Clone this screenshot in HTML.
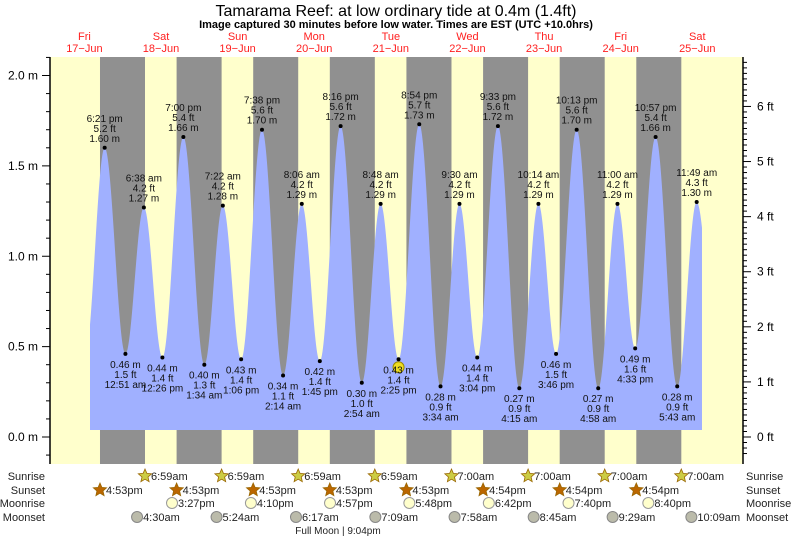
<!DOCTYPE html>
<html><head><meta charset="utf-8"><style>
html,body{margin:0;padding:0;background:#fff;}
svg{display:block;font-family:"Liberation Sans",sans-serif;}
</style></head><body>
<svg id="s" width="793" height="538" xmlns="http://www.w3.org/2000/svg"></svg>
<script>
const S=document.getElementById('s');
let h='';
const X0=46.1,PH=3.192;
const xt=t=>X0+t*PH;
const ym=m=>437-180.75*m;
const L=50,R=743,T=57,B=464;
h+=`<rect x="${L}" y="${T}" width="${R-L}" height="${B-T}" fill="#ffffcc"/>`;
const sunrise=[6.983,6.983,6.983,6.983,7,7,7,7];
const sunset=[16.883,16.883,16.883,16.883,16.883,16.9,16.9,16.9];
for(let d=0;d<8;d++){
 const a=xt(d*24+sunset[d]),b=xt((d+1)*24+sunrise[d]);
 h+=`<rect x="${a}" y="${T}" width="${b-a}" height="${B-T}" fill="#909090"/>`;
}
const tides=[[0,12.2,0.45],[0,18.35,1.60],[1,0.85,0.46],[1,6.633,1.27],[1,12.433,0.44],[1,19,1.66],[2,1.567,0.40],[2,7.367,1.28],[2,13.1,0.43],[2,19.633,1.70],[3,2.233,0.34],[3,8.1,1.29],[3,13.75,0.42],[3,20.267,1.72],[4,2.9,0.30],[4,8.8,1.29],[4,14.417,0.43],[4,20.9,1.73],[5,3.567,0.28],[5,9.5,1.29],[5,15.067,0.44],[5,21.55,1.72],[6,4.25,0.27],[6,10.233,1.29],[6,15.767,0.46],[6,22.217,1.70],[7,4.967,0.27],[7,11,1.29],[7,16.55,0.49],[7,22.95,1.66],[8,5.717,0.28],[8,11.817,1.30],[8,18,0.45]];
const tt=tides.map(a=>[a[0]*24+a[1],a[2]]);
function hAt(t){for(let i=0;i<tt.length-1;i++){const[a,ha]=tt[i],[b,hb]=tt[i+1];if(t>=a&&t<=b){const f=(t-a)/(b-a);return ha+(hb-ha)*(1-Math.cos(Math.PI*f))/2;}}return 0.5;}
const xs=90,xe=702,yb=430;
let p=`M${xs},${yb}`;
for(let x=xs;x<=xe;x+=0.5){p+=` L${x},${ym(hAt((x-X0)/PH)).toFixed(2)}`;}
p+=` L${xe},${yb}Z`;
h+=`<path d="${p}" fill="#a0b0ff"/>`;
h+=`<line x1="${L}" y1="${T}" x2="${L}" y2="${B}" stroke="#000" stroke-width="1.5"/>`;
h+=`<line x1="${R}" y1="${T}" x2="${R}" y2="${B}" stroke="#000" stroke-width="1.5"/>`;
for(let i=-2;i<=21;i++){const y=ym(i/10);if(y<T||y>B)continue;const big=i%5==0;h+=`<line x1="${L-(big?8:4)}" y1="${y}" x2="${L}" y2="${y}" stroke="#000"/>`;if(big)h+=`<text x="${L-12}" y="${y+4}" font-size="12" text-anchor="end">${(i/10).toFixed(1)} m</text>`;}
for(let i=-3;i<=68;i++){const y=ym(i*0.03048);if(y<T||y>B)continue;const big=i%10==0;h+=`<line x1="${R}" y1="${y}" x2="${R+(big?8:4)}" y2="${y}" stroke="#000"/>`;if(big)h+=`<text x="${R+14}" y="${y+4}" font-size="12">${i/10} ft</text>`;}
function fmt(t){let H=Math.floor(t+1e-6),M=Math.round((t-H)*60);if(M==60){H++;M=0;}const ap=H>=12?'pm':'am';let hh=H%12;if(hh==0)hh=12;return hh+':'+String(M).padStart(2,'0')+' '+ap;}
for(let i=1;i<tides.length-1;i++){const[d,t,m]=tides[i];const x=xt(d*24+t),y=ym(m);const ft=(m/0.3048).toFixed(1)+' ft',ms=m.toFixed(2)+' m';
 const hi=m>1;
 if(d==4&&Math.abs(t-14.417)<0.01)h+=`<circle cx="${x}" cy="${y+8}" r="5.5" fill="#eedd22" stroke="#998800"/>`;
 h+=`<circle cx="${x}" cy="${y}" r="2" fill="#000"/>`;
 const L3=hi?[fmt(t),ft,ms]:[ms,ft,fmt(t)];
 const y0=hi?y-26:y+14;
 L3.forEach((s,k)=>h+=`<text x="${x}" y="${y0+k*10}" font-size="10" text-anchor="middle" fill="#111">${s}</text>`);
}
h+=`<text x="396" y="16" font-size="16" text-anchor="middle">Tamarama Reef: at low  ordinary tide at 0.4m (1.4ft)</text>`;
h+=`<text x="396" y="28" font-size="11" font-weight="bold" text-anchor="middle">Image captured 30 minutes before low water. Times are EST (UTC +10.0hrs)</text>`;
const dn=['Fri','Sat','Sun','Mon','Tue','Wed','Thu','Fri','Sat'];
for(let d=0;d<9;d++){const x=xt(d*24+12);h+=`<text x="${x}" y="40" font-size="11" fill="#ff2020" text-anchor="middle">${dn[d]}</text><text x="${x}" y="52" font-size="11" fill="#ff2020" text-anchor="middle">${17+d}−Jun</text>`;}
const rows=[['Sunrise',476],['Sunset',490],['Moonrise',503],['Moonset',517]];
rows.forEach(([n,y])=>{h+=`<text x="45" y="${y+4}" font-size="11" text-anchor="end" fill="#222">${n}</text><text x="746" y="${y+4}" font-size="11" fill="#222">${n}</text>`;});
function star(x,y,f){let pts=[];for(let k=0;k<10;k++){const r=k%2?3.2:7,a=-Math.PI/2+k*Math.PI/5;pts.push((x+r*Math.cos(a)).toFixed(1)+','+(y+r*Math.sin(a)).toFixed(1));}return `<polygon points="${pts.join(' ')}" fill="${f}" stroke="#996600" stroke-width="0.8"/>`;}
function lab(x,y,s){return `<text x="${x+6}" y="${y+4}" font-size="11" fill="#222">${s}</text>`;}
for(let d=1;d<=8;d++){const t=sunrise[d-1];const x=xt(d*24+t);h+=star(x,476,'#cccc44')+lab(x,476,fmt(t).replace(' ',''));}
for(let d=0;d<8;d++){const t=sunset[d];const x=xt(d*24+t);h+=star(x,490,'#bb6600')+lab(x,490,fmt(t).replace(' ',''));}
const mr=[15.45,16.167,16.95,17.8,18.7,19.667,20.667];
mr.forEach((t,i)=>{const x=xt((i+1)*24+t);h+=`<circle cx="${x}" cy="503" r="5.5" fill="#ffffcc" stroke="#999"/>`+lab(x,503,fmt(t).replace(' ',''));});
const ms=[4.5,5.4,6.283,7.15,7.967,8.75,9.483,10.15];
ms.forEach((t,i)=>{const x=xt((i+1)*24+t);h+=`<circle cx="${x}" cy="517" r="5.5" fill="#bbbbaa" stroke="#888"/>`+lab(x,517,fmt(t).replace(' ',''));});
h+=`<text x="338" y="534" font-size="10" text-anchor="middle" fill="#222">Full Moon | 9:04pm</text>`;
S.innerHTML=h;
</script>
</body></html>
